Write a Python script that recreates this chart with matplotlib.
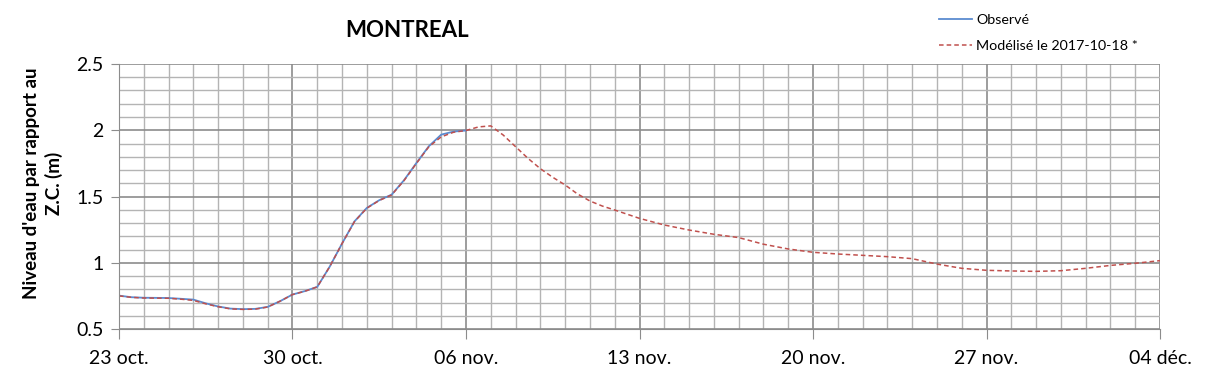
import pandas as pd
import numpy as np
import matplotlib
matplotlib.use("Agg")
import matplotlib.pyplot as plt

# Niveaux (jours depuis le 23 oct., pas d'une demi-journée dans les virages)
debut = pd.Timestamp("2017-10-23")

jour_mod = [0, 0.5, 1, 2, 2.5, 3, 3.5, 4, 4.5, 5, 5.5, 6, 6.5, 7, 7.5, 8, 8.5, 9, 9.5,
            10, 10.5, 11, 11.5, 12, 12.5, 13, 13.5, 14, 14.5, 15, 15.5, 16, 16.5, 17,
            17.5, 18, 18.5, 19, 19.5, 20, 21, 22, 23, 24, 25, 26, 27, 28, 29, 30, 31,
            32, 33, 34, 35, 36, 37, 38, 39, 40, 41, 42]
modelise = [0.75, 0.739, 0.734, 0.732, 0.725, 0.716, 0.69, 0.668, 0.652, 0.648, 0.65,
            0.666, 0.71, 0.76, 0.785, 0.818, 0.97, 1.145, 1.31, 1.412, 1.47, 1.512,
            1.62, 1.75, 1.875, 1.95, 1.985, 1.998, 2.025, 2.033, 1.964, 1.876, 1.788,
            1.71, 1.645, 1.587, 1.519, 1.466, 1.428, 1.398, 1.335, 1.285, 1.247, 1.215,
            1.19, 1.14, 1.104, 1.079, 1.066, 1.056, 1.046, 1.031, 0.99, 0.958, 0.943,
            0.938, 0.935, 0.94, 0.958, 0.98, 0.996, 1.016]

jour_obs = [0, 0.5, 1, 2, 2.5, 3, 3.5, 4, 4.5, 5, 5.5, 6, 6.5, 7, 7.5, 8, 8.5, 9, 9.5,
            10, 10.5, 11, 11.5, 12, 12.5, 13, 13.5, 14]
observe = [0.752, 0.74, 0.736, 0.734, 0.728, 0.722, 0.694, 0.67, 0.654, 0.65, 0.652,
           0.667, 0.71, 0.76, 0.786, 0.818, 0.97, 1.145, 1.312, 1.414, 1.472, 1.514,
           1.623, 1.753, 1.879, 1.967, 1.99, 1.998]

dates_mod = debut + pd.to_timedelta(jour_mod, unit="D")
dates_obs = debut + pd.to_timedelta(jour_obs, unit="D")
jours = pd.date_range("2017-10-23", "2017-12-04", freq="D")

ticks_x = pd.date_range("2017-10-23", "2017-12-04", freq="7D")
etiquettes_x = ["23 oct.", "30 oct.", "06 nov.", "13 nov.", "20 nov.", "27 nov.", "04 déc."]
ticks_y = [0.5, 1, 1.5, 2, 2.5]
etiquettes_y = ["0.5", "1", "1.5", "2", "2.5"]

plt.rcParams["font.family"] = ["Lato", "DejaVu Sans"]

fig = plt.figure(figsize=(12.09, 3.78), dpi=100)
ax = fig.add_axes([0.0984, 0.1296, 0.8611, 0.7011])

# grille fine (jour / 0.1 m) puis grille principale
ax.set_xticks(jours, minor=True)
ax.set_yticks(np.arange(0.5, 2.51, 0.1), minor=True)
ax.grid(which="minor", color="#b4b4b4", linewidth=1.0)
ax.grid(which="major", color="#8c8c8c", linewidth=1.2)
ax.set_axisbelow(True)

ax.plot(dates_obs, observe, color="#5b8bd0", linewidth=1.3, label="Observé")
ax.plot(dates_mod, modelise, color="#c0504d", linewidth=1.1, linestyle=(0, (3, 2)),
        label="Modélisé le 2017-10-18 *")

ax.set_xlim(jours[0], jours[-1])
ax.set_ylim(0.5, 2.5)
ax.set_xticks(ticks_x)
ax.set_xticklabels(etiquettes_x, fontsize=14)
ax.set_yticks(ticks_y)
ax.set_yticklabels(etiquettes_y, fontsize=14)
ax.tick_params(axis="x", which="major", length=7, color="#8c8c8c", pad=8)
ax.tick_params(axis="y", which="major", length=6, color="#8c8c8c", pad=5)
ax.tick_params(which="minor", length=0)

for cote in ["top", "right"]:
    ax.spines[cote].set_visible(False)
for cote in ["left", "bottom"]:
    ax.spines[cote].set_color("#8c8c8c")

ax.set_ylabel("Niveau d'eau par rapport au\nZ.C. (m)", fontsize=13.5, fontweight="bold",
              linespacing=1.3)
ax.yaxis.set_label_coords(-0.054, 0.55)

fig.text(0.337, 0.92, "MONTREAL", fontsize=16, fontweight="bold", ha="center", va="center")

fig.legend(loc="upper left", bbox_to_anchor=(0.7664, 0.998), frameon=False, fontsize=10.3,
           handlelength=2.25, labelspacing=1.0, handletextpad=0.33)

fig.savefig("out.png", dpi=100)
